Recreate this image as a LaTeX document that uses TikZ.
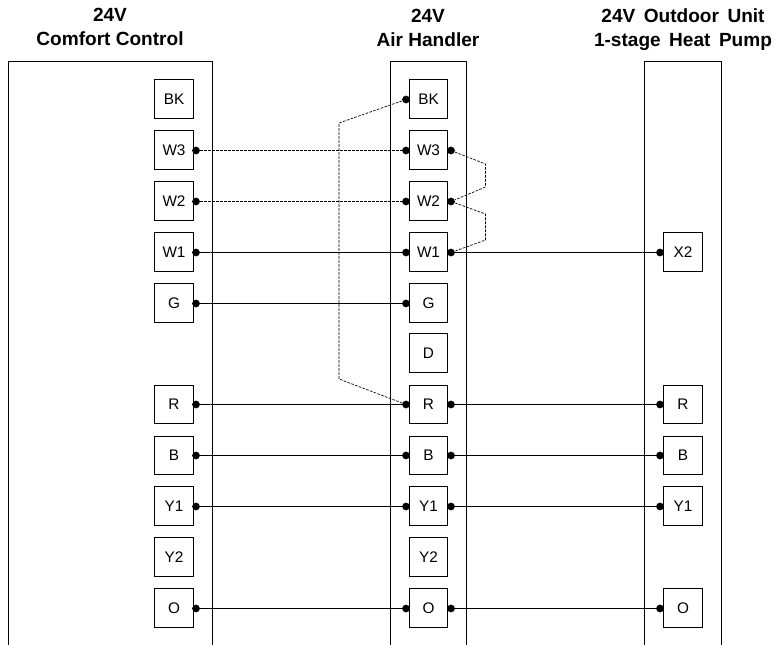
\documentclass[tikz,border=0pt]{standalone}
\usepackage{fontspec}
\setmainfont{Liberation Sans}
\newfontfamily\widefont[WordSpace=1.6]{Liberation Sans}
\usepackage{tikz}

\begin{document}
\begin{tikzpicture}[x=0.75pt, y=-0.75pt,
    every node/.style={inner sep=0pt},
    title/.style={align=center, font=\fontsize{14.3}{18}\selectfont\bfseries},
    titlewide/.style={align=center, font=\fontsize{14.3}{18}\widefont\bfseries},
    term/.style={draw, line width=0.75pt, minimum size=28.9pt, font=\fontsize{11.5}{13}\selectfont},
    pin/.style={circle, fill=black, minimum size=5.8pt},
    wire/.style={line width=0.75pt},
    jumper/.style={line width=0.5pt, dash pattern=on 2pt off 1pt}]

    \useasboundingbox (0,0) rectangle (776,645);

    % Titoli
    \node[title] (titleA) at (110,27) {24V\\Comfort Control};
    \node[title] (titleB) at (428,28) {24V\\Air Handler};
    \node[titlewide] (titleC) at (683,30) {24V Outdoor Unit\\1-stage Heat Pump};

    % Pannelli
    \draw[wire] (8.5,645) -- (8.5,61.5) -- (212.5,61.5) -- (212.5,645);
    \draw[wire] (390.5,645) -- (390.5,61.5) -- (466.5,61.5) -- (466.5,645);
    \draw[wire] (644.5,645) -- (644.5,61.5) -- (721.5,61.5) -- (721.5,645);

    % Morsetti comfort control
    \node[term] (aBK) at (174,99) {BK};
    \node[term] (aW3) at (174,150) {W3};
    \node[term] (aW2) at (174,201) {W2};
    \node[term] (aW1) at (174,252) {W1};
    \node[term] (aG) at (174,303) {G};
    \node[term] (aR) at (174,404.5) {R};
    \node[term] (aB) at (174,455.5) {B};
    \node[term] (aY1) at (174,506) {Y1};
    \node[term] (aY2) at (174,557) {Y2};
    \node[term] (aO) at (174,608) {O};

    % Morsetti air handler
    \node[term] (bBK) at (428.5,99) {BK};
    \node[term] (bW3) at (428.5,150) {W3};
    \node[term] (bW2) at (428.5,201) {W2};
    \node[term] (bW1) at (428.5,252) {W1};
    \node[term] (bG) at (428.5,303) {G};
    \node[term] (bD) at (428.5,353) {D};
    \node[term] (bR) at (428.5,404.5) {R};
    \node[term] (bB) at (428.5,455.5) {B};
    \node[term] (bY1) at (428.5,506) {Y1};
    \node[term] (bY2) at (428.5,557) {Y2};
    \node[term] (bO) at (428.5,608) {O};

    % Morsetti unita esterna
    \node[term] (cX2) at (683,252) {X2};
    \node[term] (cR) at (683,404.5) {R};
    \node[term] (cB) at (683,455.5) {B};
    \node[term] (cY1) at (683,506) {Y1};
    \node[term] (cO) at (683,608) {O};

    % Contatti
    \node[pin] (aW3p) at (196,150.5) {};
    \node[pin] (aW2p) at (196,201.5) {};
    \node[pin] (aW1p) at (196,252.5) {};
    \node[pin] (aGp) at (196,303.5) {};
    \node[pin] (aRp) at (196,404.5) {};
    \node[pin] (aBp) at (196,455.5) {};
    \node[pin] (aY1p) at (196,506.5) {};
    \node[pin] (aOp) at (196,608.5) {};

    \node[pin] (bBKl) at (406,99.5) {};
    \node[pin] (bW3l) at (406,150.5) {};
    \node[pin] (bW2l) at (406,201.5) {};
    \node[pin] (bW1l) at (406,252.5) {};
    \node[pin] (bGl) at (406,303.5) {};
    \node[pin] (bRl) at (406,404.5) {};
    \node[pin] (bBl) at (406,455.5) {};
    \node[pin] (bY1l) at (406,506.5) {};
    \node[pin] (bOl) at (406,608.5) {};

    \node[pin] (bW3r) at (451,150.5) {};
    \node[pin] (bW2r) at (451,201.5) {};
    \node[pin] (bW1r) at (451,252.5) {};
    \node[pin] (bRr) at (451,404.5) {};
    \node[pin] (bBr) at (451,455.5) {};
    \node[pin] (bY1r) at (451,506.5) {};
    \node[pin] (bOr) at (451,608.5) {};

    \node[pin] (cX2p) at (660,252.5) {};
    \node[pin] (cRp) at (660,404.5) {};
    \node[pin] (cBp) at (660,455.5) {};
    \node[pin] (cY1p) at (660,506.5) {};
    \node[pin] (cOp) at (660,608.5) {};

    % Punti di piega
    \coordinate (k1) at (339,123);
    \coordinate (k2) at (339,379);
    \coordinate (k3) at (485.5,164);
    \coordinate (k4) at (485.5,187);
    \coordinate (k5) at (485.5,214);
    \coordinate (k6) at (485.5,240);

    % Fili
    \draw[jumper] (aW3p) -- (bW3l);
    \draw[jumper] (aW2p) -- (bW2l);
    \draw[wire] (aW1p) -- (bW1l);
    \draw[wire] (aGp) -- (bGl);
    \draw[wire] (aRp) -- (bRl);
    \draw[wire] (aBp) -- (bBl);
    \draw[wire] (aY1p) -- (bY1l);
    \draw[wire] (aOp) -- (bOl);

    \draw[wire] (bW1r) -- (cX2p);
    \draw[wire] (bRr) -- (cRp);
    \draw[wire] (bBr) -- (cBp);
    \draw[wire] (bY1r) -- (cY1p);
    \draw[wire] (bOr) -- (cOp);

    % Ponticelli
    \draw[jumper] (bBKl) -- (k1) -- (k2) -- (bRl);
    \draw[jumper] (bW3r) -- (k3) -- (k4) -- (bW2r);
    \draw[jumper] (bW2r) -- (k5) -- (k6) -- (bW1r);
\end{tikzpicture}
\end{document}
